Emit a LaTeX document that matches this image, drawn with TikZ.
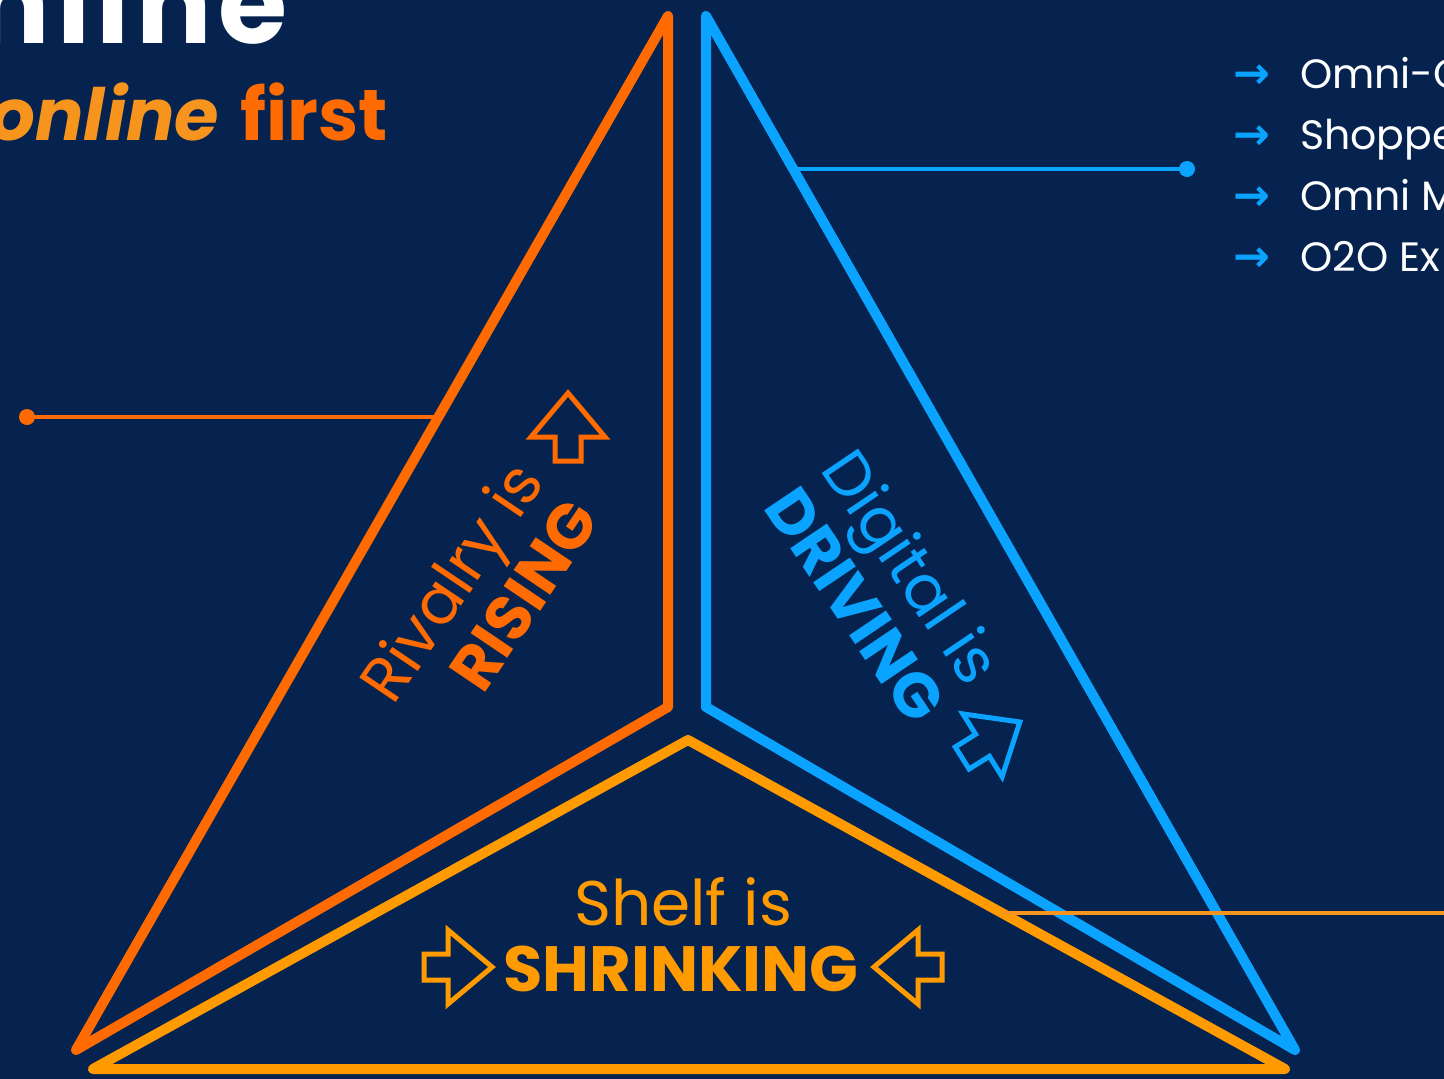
\documentclass[tikz,border=0pt]{standalone}
\usepackage{fontspec}
\setmainfont{Poppins}
\newfontfamily\symbolfont{DejaVu Sans}
\usetikzlibrary{positioning}

\definecolor{navy}{HTML}{05234E}
\definecolor{rivalry}{HTML}{FF6B00}
\definecolor{shelf}{HTML}{FF9A00}
\definecolor{digital}{HTML}{0AA3FF}
\definecolor{amber}{HTML}{F7941D}

% hollow block arrow: centre, angle, colour
\newcommand{\hollowarrow}[3]{%
  \draw[arrowline, draw=#3, shift={#1}, rotate=#2]
    (34,0) -- (-10,37) -- (-10,13) -- (-34,13) -- (-34,-13) -- (-10,-13) -- (-10,-37) -- cycle;}

\begin{document}
\begin{tikzpicture}[
    x=1pt, y=-1pt,
    tri/.style={line width=10pt, line join=round, line cap=round},
    link/.style={line width=3.5pt},
    tipdot/.style={circle, fill=#1, inner sep=0pt, minimum size=16pt},
    arrowline/.style={line width=5pt, line join=miter},
    item/.style={anchor=base west, text=white, inner sep=0pt, font=\fontsize{41}{41}\selectfont},
    bullet/.style={anchor=base west, text=digital, inner sep=0pt, font=\symbolfont\bfseries\fontsize{44}{44}\selectfont},
    headline/.style={anchor=base east, inner sep=0pt},
    label/.style={inner sep=0pt, font=\fontsize{63}{68}\selectfont}
]

\useasboundingbox (0,0) rectangle (1444,1079);
\fill[navy] (0,0) rectangle (1444,1079);
\clip (0,0) rectangle (1444,1079);

% heading
\node[headline, text=white, font=\bfseries\fontsize{112}{112}\selectfont\addfontfeatures{LetterSpace=6}] (title) at (288,43) {Online};
\node[headline, font=\bfseries\fontsize{72}{72}\selectfont] (subtitle) at (388,140)
  {\textcolor{amber}{\itshape online}\hspace{6pt} \textcolor{rivalry}{first}};

% the three triangles
\draw[tri, rivalry] (668,16) -- (668,707) -- (76,1050) -- cycle;
\draw[tri, digital] (706,16) -- (706,707) -- (1295,1050) -- cycle;
\draw[tri, shelf] (688,740) -- (1285,1069) -- (93,1069) -- cycle;

% labels
\node[label, rotate=56, align=right, text=rivalry] (rivalryText) at (478,600) {Rivalry is\\\textbf{RISING}};
\node[label, rotate=-56, align=center, text=digital] (digitalText) at (885,585) {Digital is\\\textbf{DRIVING}};
\node[label, anchor=base, text=shelf] (shelfText) at (683,925) {Shelf is};
\node[label, anchor=base, text=shelf, font=\bfseries\fontsize{64}{68}\selectfont] (shrinkText) at (681,991) {SHRINKING};

\hollowarrow{(568,427)}{90}{rivalry}
\hollowarrow{(991,740)}{32}{digital}
\hollowarrow{(458,967)}{0}{shelf}
\hollowarrow{(908,967)}{180}{shelf}

% call-out lines
\coordinate (rivalryEdge) at (437,417);
\coordinate (digitalEdge) at (795,169);
\coordinate (shelfEdge) at (1002,913);
\coordinate (shelfEnd) at (1444,913);
\node[tipdot=rivalry] (rivalryDot) at (27,417) {};
\node[tipdot=digital] (digitalDot) at (1187,169) {};
\draw[link, rivalry] (rivalryDot.center) -- (rivalryEdge);
\draw[link, digital] (digitalEdge) -- (digitalDot.center);
\draw[link, amber] (shelfEdge) -- (shelfEnd);

% list on the right
\foreach \txt [count=\i] in {Omni-C, Shoppe, Omni M, O2O Ex} {
  \node[item] (item\i) at (1300, 27+61*\i) {\txt};
  \node[bullet] (bullet\i) at (1233, 27+61*\i) {→};
}

\end{tikzpicture}
\end{document}
